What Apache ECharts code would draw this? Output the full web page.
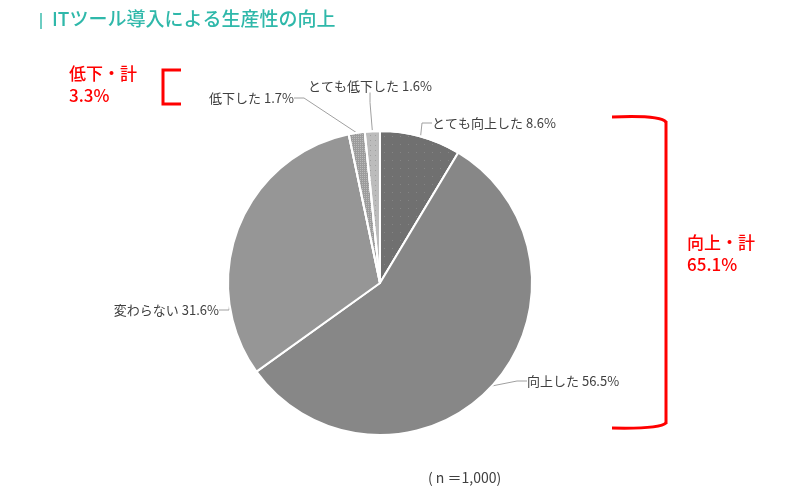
<!DOCTYPE html>
<html>
<head>
<meta charset="utf-8">
<script src="https://cdn.jsdelivr.net/npm/echarts@6/dist/echarts.min.js"></script>
<style>
html,body{margin:0;padding:0;background:#fff;}
#c{width:792px;height:503px;}
</style>
</head>
<body>
<div id="c"></div>
<script>
var categories = ['とても向上した', '向上した', '変わらない', '低下した', 'とても低下した'];
var values = [8.6, 56.5, 31.6, 1.7, 1.6];
var sliceColors = ['#707070', '#878787', '#969696', '#9c9c9c', '#bcbcbc'];
var titleText = 'ITツール導入による生産性の向上';
var noteText = '( n ＝1,000)';
var downLabel = ['低下・計', '3.3%'];
var upLabel = ['向上・計', '65.1%'];

var FONT = '"Noto Sans CJK JP", "Noto Sans", sans-serif';
var chart = echarts.init(document.getElementById('c'));

var labelPos = [
  {x: 432, y: 123, align: 'left'},
  {x: 527, y: 381, align: 'left'},
  {x: 219, y: 310, align: 'right'},
  {x: 294, y: 98, align: 'right'},
  {x: 370, y: 86, align: 'center'}
];

var decals = [
  {symbol: 'rect', symbolSize: 1, color: 'rgba(160,160,160,0.45)', dashArrayX: [1, 7], dashArrayY: [1, 7]},
  null,
  null,
  {symbol: 'rect', symbolSize: 1, color: 'rgba(200,200,200,0.7)', dashArrayX: [1, 1], dashArrayY: [1, 1]},
  {symbol: 'rect', symbolSize: 1, color: 'rgba(140,140,140,0.6)', dashArrayX: [1, 4], dashArrayY: [1, 4]}
];

var data = categories.map(function (n, i) {
  var it = {color: sliceColors[i]};
  if (decals[i]) it.decal = decals[i];
  return {name: n, value: values[i], itemStyle: it};
});

var red = {stroke: '#ff0000', lineWidth: 3, fill: null};

chart.setOption({
  animation: false,
  graphic: [
    {type: 'line', shape: {x1: 41, y1: 13, x2: 41, y2: 29}, style: {stroke: '#3cbcae', lineWidth: 1.5}},
    {type: 'text', x: 52, y: 9, style: {text: titleText, fill: '#2fb8aa', font: '500 19px ' + FONT}},
    {type: 'text', x: 69, y: 63, style: {text: downLabel.join('\n'), fill: '#ff0000', font: '500 17px ' + FONT, lineHeight: 22}},
    {type: 'text', x: 687, y: 232, style: {text: upLabel.join('\n'), fill: '#ff0000', font: '500 17px ' + FONT, lineHeight: 22}},
    {type: 'polyline', shape: {points: [[181, 70], [163, 70], [163, 104], [181, 104]]}, style: red},
    {type: 'bezierCurve', shape: {x1: 612, y1: 117, x2: 666, y2: 122, cpx1: 660, cpy1: 115}, style: red},
    {type: 'line', shape: {x1: 666, y1: 121, x2: 666, y2: 424}, style: red},
    {type: 'bezierCurve', shape: {x1: 666, y1: 423, x2: 612, y2: 428, cpx1: 660, cpy1: 429}, style: red},
    {type: 'text', x: 428, y: 471, style: {text: noteText, fill: '#404040', font: '14px ' + FONT}}
  ],
  series: [{
    type: 'pie',
    center: [380, 283],
    radius: 152,
    startAngle: 90,
    clockwise: true,
    data: data,
    itemStyle: {borderColor: '#ffffff', borderWidth: 2},
    label: {
      show: true,
      formatter: function (p) { return p.name + ' ' + p.value.toFixed(1) + '%'; },
      color: '#404040',
      fontSize: 13,
      fontFamily: FONT
    },
    labelLine: {show: true, lineStyle: {color: '#a0a0a0', width: 1}, length: 10, length2: 10},
    labelLayout: function (params) {
      var p = labelPos[params.dataIndex];
      return {x: p.x, y: p.y, align: p.align, verticalAlign: 'middle', hideOverlap: false};
    }
  }]
});
</script>
</body>
</html>
